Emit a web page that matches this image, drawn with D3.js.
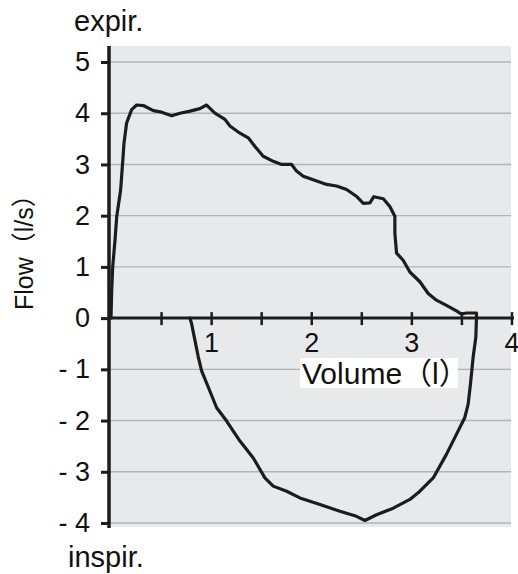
<!DOCTYPE html>
<html>
<head>
<meta charset="utf-8">
<script src="https://cdn.jsdelivr.net/npm/d3@7"></script>
<style>
  html, body { margin: 0; padding: 0; background: #fff; }
  svg { display: block; }
  text { font-family: "Liberation Sans", Arial, "Noto Sans CJK JP", sans-serif; fill: #111; }
</style>
</head>
<body>
<svg id="chart" width="518" height="574"></svg>
<script>
// ---- data ----
const yTicks = [5, 4, 3, 2, 1, 0, -1, -2, -3, -4];
const yTickLabels = ["5", "4", "3", "2", "1", "0", "- 1", "- 2", "- 3", "- 4"];
const xTicks = [0.5, 1, 1.5, 2, 2.5, 3, 3.5, 4];
const xTickLabels = ["", "1", "", "2", "", "3", "", "4"];

// expiration limb: volume (l), flow (l/s)
const expVolume = [0, 0.007, 0.017, 0.04, 0.057, 0.096, 0.116, 0.13, 0.156, 0.206, 0.256, 0.323, 0.423, 0.506, 0.606, 0.689, 0.789, 0.888, 0.955, 1.038, 1.138, 1.188, 1.288, 1.371, 1.438, 1.52, 1.62, 1.704, 1.804, 1.853, 1.92, 2.02, 2.153, 2.253, 2.353, 2.45, 2.52, 2.586, 2.625, 2.72, 2.785, 2.835, 2.835, 2.852, 2.918, 2.985, 3.085, 3.168, 3.25, 3.35, 3.45, 3.5, 3.55, 3.65, 3.65];
const expFlow   = [0, 0.54, 1.0, 1.52, 1.98, 2.5, 3.03, 3.42, 3.81, 4.07, 4.16, 4.15, 4.05, 4.02, 3.95, 4.0, 4.04, 4.09, 4.16, 4.0, 3.88, 3.75, 3.61, 3.52, 3.35, 3.16, 3.06, 3.0, 3.0, 2.87, 2.77, 2.7, 2.61, 2.58, 2.51, 2.38, 2.24, 2.25, 2.37, 2.33, 2.18, 1.99, 1.66, 1.27, 1.13, 0.9, 0.71, 0.48, 0.35, 0.25, 0.14, 0.08, 0.1, 0.1, 0];

// inspiration limb
const inspVolume = [3.65, 3.644, 3.617, 3.59, 3.567, 3.534, 3.45, 3.35, 3.218, 3.085, 2.985, 2.819, 2.652, 2.536, 2.452, 2.286, 2.087, 1.887, 1.754, 1.62, 1.537, 1.421, 1.288, 1.155, 1.055, 0.972, 0.905, 0.872, 0.839, 0.805, 0.789];
const inspFlow   = [0, -0.37, -0.76, -1.29, -1.68, -1.94, -2.27, -2.66, -3.12, -3.38, -3.54, -3.71, -3.84, -3.95, -3.87, -3.77, -3.64, -3.51, -3.38, -3.28, -3.12, -2.73, -2.4, -2.01, -1.75, -1.35, -1.03, -0.76, -0.44, -0.11, 0];

const topLabel = "expir.";
const bottomLabel = "inspir.";
const xTitle = "Volume（l）";
const yTitle = "Flow（l/s）";

// ---- drawing ----
const svg = d3.select("#chart");
const x = d3.scaleLinear().domain([0, 4]).range([111, 511.5]);
const y = d3.scaleLinear().domain([-4, 5]).range([523, 62]);

const plotLeft = 109, plotRight = 511, plotTop = 46, plotBottom = 527;

svg.append("rect")
  .attr("x", plotLeft).attr("y", plotTop)
  .attr("width", plotRight - plotLeft).attr("height", plotBottom - plotTop)
  .attr("fill", "#e8e9eb");

// gridlines
svg.append("g").selectAll("line")
  .data(yTicks.filter(d => d !== 0))
  .join("line")
  .attr("x1", plotLeft).attr("x2", plotRight)
  .attr("y1", d => y(d)).attr("y2", d => y(d))
  .attr("stroke", "#b3b3b3").attr("stroke-width", 1.4);

// curve
const pts = expVolume.map((v, i) => [v, expFlow[i]])
  .concat(inspVolume.map((v, i) => [v, inspFlow[i]]));
const line = d3.line().x(d => x(d[0])).y(d => y(d[1])).curve(d3.curveLinear);
svg.append("path")
  .attr("d", line(pts))
  .attr("fill", "none")
  .attr("stroke", "#1c1c1c")
  .attr("stroke-width", 3.2)
  .attr("stroke-linejoin", "round")
  .attr("stroke-linecap", "round");

// Y axis
const yAxis = d3.axisLeft(y)
  .tickValues(yTicks)
  .tickFormat((d, i) => yTickLabels[i])
  .tickSize(8)
  .tickPadding(11);
const gy = svg.append("g").attr("transform", `translate(${plotLeft},0)`).call(yAxis);
gy.select(".domain").remove();
gy.selectAll(".tick line").attr("stroke", "#1c1c1c").attr("stroke-width", 3);
gy.selectAll(".tick text")
  .style("font-family", '"Liberation Sans", Arial, sans-serif')
  .attr("font-size", 27).attr("fill", "#111");
svg.append("line")
  .attr("x1", plotLeft).attr("x2", plotLeft)
  .attr("y1", plotTop).attr("y2", plotBottom + 1)
  .attr("stroke", "#1c1c1c").attr("stroke-width", 3.5);

// X axis (at flow = 0)
const xAxis = d3.axisBottom(x)
  .tickValues(xTicks)
  .tickFormat((d, i) => xTickLabels[i])
  .tickSize(7)
  .tickPadding(8);
const gx = svg.append("g").attr("transform", `translate(0,${y(0)})`).call(xAxis);
gx.select(".domain").remove();
gx.selectAll(".tick line").attr("y1", -6).attr("stroke", "#1c1c1c").attr("stroke-width", 2.5);
gx.selectAll(".tick text")
  .style("font-family", '"Liberation Sans", Arial, sans-serif')
  .attr("font-size", 27).attr("fill", "#111");
svg.append("line")
  .attr("x1", plotLeft).attr("x2", 514)
  .attr("y1", y(0)).attr("y2", y(0))
  .attr("stroke", "#1c1c1c").attr("stroke-width", 3);

// x title with white box
svg.append("rect")
  .attr("x", 300).attr("y", 358).attr("width", 158).attr("height", 30)
  .attr("fill", "#fff");
svg.append("text")
  .attr("x", 302).attr("y", 384)
  .attr("font-size", 30)
  .text(xTitle);

// y title
svg.append("text")
  .attr("transform", "translate(33,310) rotate(-90)")
  .attr("font-size", 25)
  .text(yTitle);

// expir./inspir. labels
svg.append("text").attr("x", 74).attr("y", 31).attr("font-size", 29).text(topLabel);
svg.append("text").attr("x", 68).attr("y", 567).attr("font-size", 29).text(bottomLabel);
</script>
</body>
</html>
